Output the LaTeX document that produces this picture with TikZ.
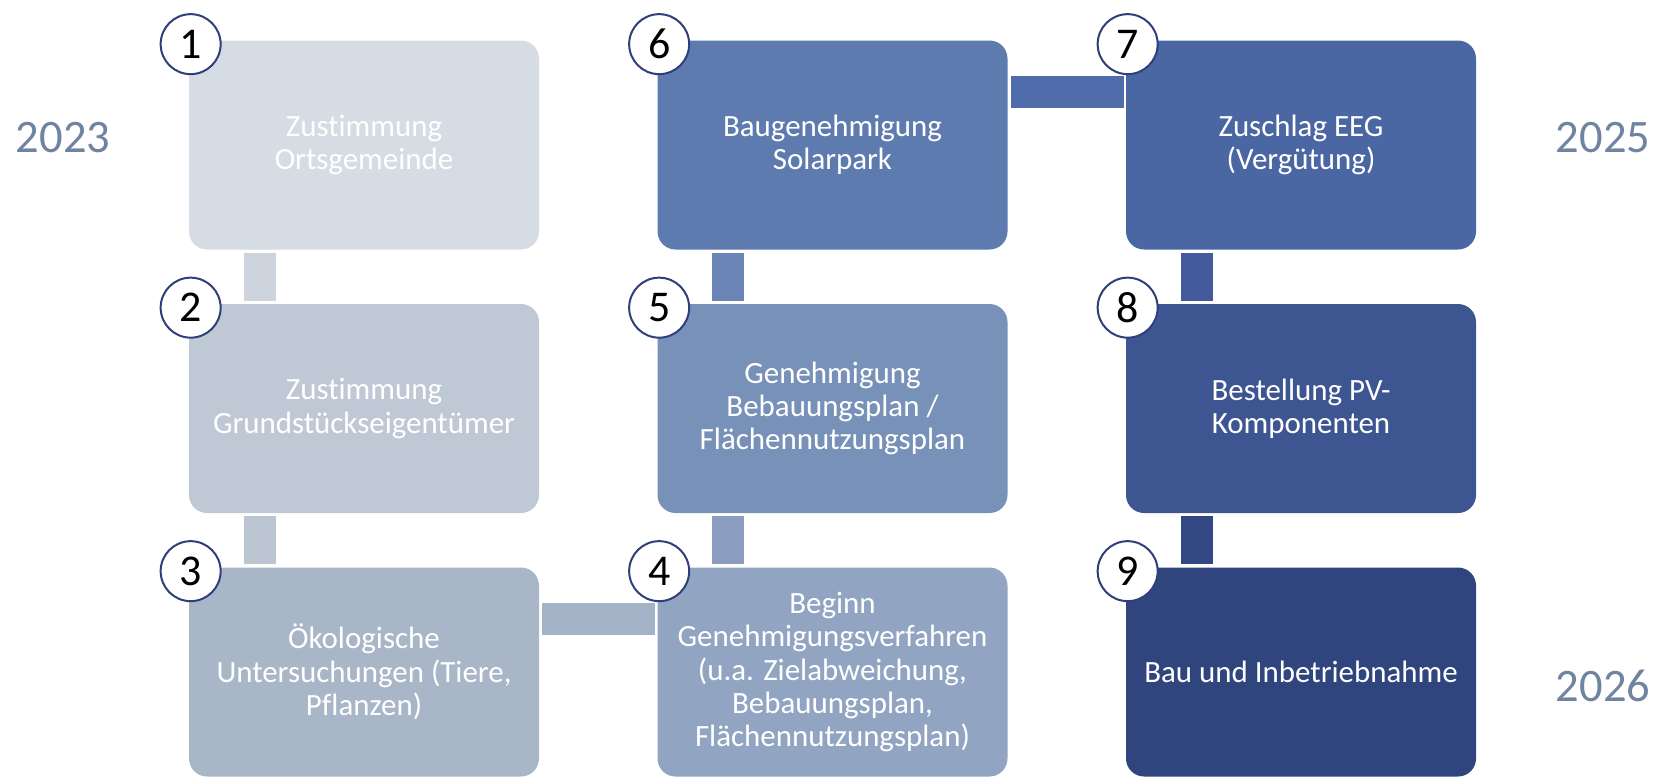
\documentclass[tikz,border=0pt]{standalone}
\usepackage{fontspec}
\setmainfont{Carlito}[Ligatures=NoCommon]
\usepackage{xcolor}
\usepackage{tikz}
\usetikzlibrary{positioning}

\definecolor{box1}{HTML}{D6DCE4}
\definecolor{box2}{HTML}{BFC9D5}
\definecolor{box3}{HTML}{A9B6C8}
\definecolor{box4}{HTML}{91A4C2}
\definecolor{box5}{HTML}{7891B9}
\definecolor{box6}{HTML}{5E7BB0}
\definecolor{box7}{HTML}{4A67A3}
\definecolor{box8}{HTML}{3D5591}
\definecolor{box9}{HTML}{30457D}
\definecolor{link12}{HTML}{CDD4DE}
\definecolor{link23}{HTML}{BCC6D3}
\definecolor{link34}{HTML}{A3B2C7}
\definecolor{link45}{HTML}{8A9DC0}
\definecolor{link56}{HTML}{6A85B6}
\definecolor{link67}{HTML}{506CAA}
\definecolor{link78}{HTML}{42599A}
\definecolor{link89}{HTML}{334885}
\definecolor{numline}{HTML}{2F3F7A}
\definecolor{yeartext}{HTML}{6E84A0}

\begin{document}
\begin{tikzpicture}[
    node distance=5.27cm,
    stepbox/.style={rectangle, rounded corners=0.36cm, minimum width=7cm, minimum height=4.18cm, inner sep=0pt, align=center, text=white, font=\fontsize{17.6}{19}\selectfont},
    num/.style={circle, draw=numline, line width=0.04cm, fill=white, minimum size=1.2cm, inner sep=0pt, font=\fontsize{25}{25}\selectfont},
    year/.style={text=yeartext, font=\fontsize{26.5}{26.5}\selectfont},
    bar/.style={line width=0.64cm}
]
    \useasboundingbox (0,0) rectangle (33.18,-15.52);

    % First column
    \node[stepbox, fill=box1] (s1) at (7.28,-2.9) {Zustimmung\\Ortsgemeinde};
    \node[stepbox, fill=box2, below of=s1] (s2) {Zustimmung\\Grundstückseigentümer};
    \node[stepbox, fill=box3, below of=s2] (s3) {Ökologische\\Untersuchungen (Tiere,\\Pflanzen)};

    % Second column
    \node[stepbox, fill=box4, right of=s3, xshift=4.1cm] (s4) {Beginn\\Genehmigungsverfahren\\(u.a. Zielabweichung,\\Bebauungsplan,\\Flächennutzungsplan)};
    \node[stepbox, fill=box5, above of=s4] (s5) {Genehmigung\\Bebauungsplan /\\Flächennutzungsplan};
    \node[stepbox, fill=box6, above of=s5] (s6) {Baugenehmigung\\Solarpark};

    % Third column
    \node[stepbox, fill=box7, right of=s6, xshift=4.1cm] (s7) {Zuschlag EEG\\(Vergütung)};
    \node[stepbox, fill=box8, below of=s7] (s8) {Bestellung PV-\\Komponenten};
    \node[stepbox, fill=box9, below of=s8] (s9) {Bau und Inbetriebnahme};

    % Years
    \node[year] (y2023) at (1.26,-2.76) {2023};
    \node[year] (y2025) at (32.06,-2.75) {2025};
    \node[year] (y2026) at (32.06,-13.72) {2026};

    % Links
    \draw[bar, link12] ([xshift=1.42cm, yshift=-0.06cm]s1.south west) -- ([xshift=1.42cm, yshift=0.06cm]s2.north west);
    \draw[bar, link23] ([xshift=1.42cm, yshift=-0.06cm]s2.south west) -- ([xshift=1.42cm, yshift=0.06cm]s3.north west);
    \draw[bar, link34] ([xshift=0.06cm, yshift=-1.04cm]s3.north east) -- ([xshift=-0.04cm, yshift=-1.04cm]s4.north west);
    \draw[bar, link45] ([xshift=1.42cm, yshift=0.06cm]s4.north west) -- ([xshift=1.42cm, yshift=-0.06cm]s5.south west);
    \draw[bar, link56] ([xshift=1.42cm, yshift=0.06cm]s5.north west) -- ([xshift=1.42cm, yshift=-0.06cm]s6.south west);
    \draw[bar, link67] ([xshift=0.06cm, yshift=-1.04cm]s6.north east) -- ([xshift=-0.04cm, yshift=-1.04cm]s7.north west);
    \draw[bar, link78] ([xshift=1.42cm, yshift=-0.06cm]s7.south west) -- ([xshift=1.42cm, yshift=0.06cm]s8.north west);
    \draw[bar, link89] ([xshift=1.42cm, yshift=-0.06cm]s8.south west) -- ([xshift=1.42cm, yshift=0.06cm]s9.north west);

    % Numbers
    \foreach \i in {1,...,9}
        \node[num] (n\i) at ([shift={(0.04,-0.08)}]s\i.north west) {\i};

\end{tikzpicture}
\end{document}
